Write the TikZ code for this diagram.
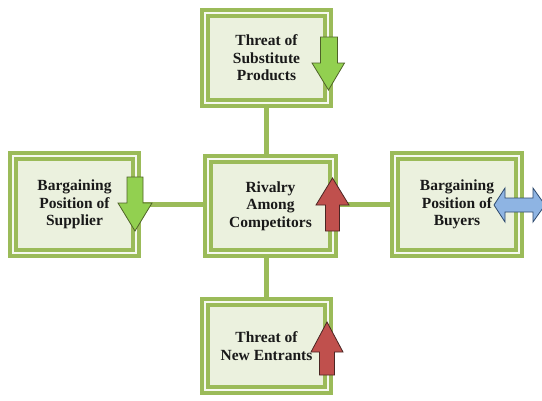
\documentclass[tikz,border=0pt]{standalone}
\usepackage{fontspec}
\setmainfont{Liberation Serif}
\usetikzlibrary{positioning}

\definecolor{framegreen}{HTML}{9BBB59}
\definecolor{framegap}{HTML}{F6F9F0}
\definecolor{boxfill}{HTML}{EBF1DE}
\definecolor{limefill}{HTML}{92D050}
\definecolor{limeline}{HTML}{4F6228}
\definecolor{redfill}{HTML}{C0504D}
\definecolor{redline}{HTML}{4A2523}
\definecolor{bluefill}{HTML}{8EB4E3}
\definecolor{blueline}{HTML}{2E4A6E}

\begin{document}
\begin{tikzpicture}[x=1pt,y=-1pt]
\tikzstyle{force}=[draw=framegreen, double=framegap, double distance=2.5pt, line width=3.5pt, fill=boxfill, inner sep=0pt, align=center, text=black!90, font=\bfseries\fontsize{15.5}{17.5}\selectfont]
\tikzstyle{link}=[draw=framegreen, line width=5pt]
\tikzstyle{greenarrow}=[fill=limefill, draw=limeline, line width=0.8pt, line join=miter]
\tikzstyle{redarrow}=[fill=redfill, draw=redline, line width=0.8pt, line join=miter]
\tikzstyle{bluearrow}=[fill=bluefill, draw=blueline, line width=0.8pt, line join=miter]
\useasboundingbox (0,0) rectangle (542,400);
\clip (0,0) rectangle (542,400);
% the five forces
\node (substitutes) [force, minimum width=123pt, minimum height=90pt] at (266.5,58) {Threat of\\Substitute\\Products};
\node (rivalry) [force, minimum width=125pt, minimum height=94pt] at (270.5,206) {Rivalry\\Among\\Competitors};
\node (supplier) [force, minimum width=123pt, minimum height=97pt] at (74.5,204.5) {Bargaining\\Position of\\Supplier};
\node (buyers) [force, minimum width=124pt, minimum height=97pt] at (457,204.5) {Bargaining\\Position of\\Buyers};
\node (entrants) [force, minimum width=123pt, minimum height=88pt] at (266.5,346) {Threat of\\New Entrants};
% links to the centre
\draw[link] (substitutes.south) -- (substitutes.south |- rivalry.north);
\draw[link] (entrants.north) -- (entrants.north |- rivalry.south);
\draw[link] (supplier.east) -- (supplier.east -| rivalry.west);
\draw[link] (buyers.west -| rivalry.east) -- (buyers.west);
% arrows
\draw[greenarrow] (320.5,37) -- (337.5,37) -- (337.5,63) -- (344.5,63) -- (328.5,90) -- (312,63) -- (320.5,63) -- cycle;
\draw[greenarrow] (127,177) -- (143,177) -- (143,203) -- (152,203) -- (135,231) -- (118,203) -- (127,203) -- cycle;
\draw[redarrow] (325.5,231) -- (339.5,231) -- (339.5,205) -- (349,205) -- (332.5,178) -- (316,205) -- (325.5,205) -- cycle;
\draw[redarrow] (319.5,375) -- (334.5,375) -- (334.5,352) -- (343,352) -- (327,322) -- (311,352) -- (319.5,352) -- cycle;
\draw[bluearrow] (494,205) -- (505,188) -- (505,198) -- (533,198) -- (533,188) -- (545,205) -- (533,222) -- (533,212) -- (505,212) -- (505,222) -- cycle;
\end{tikzpicture}
\end{document}
